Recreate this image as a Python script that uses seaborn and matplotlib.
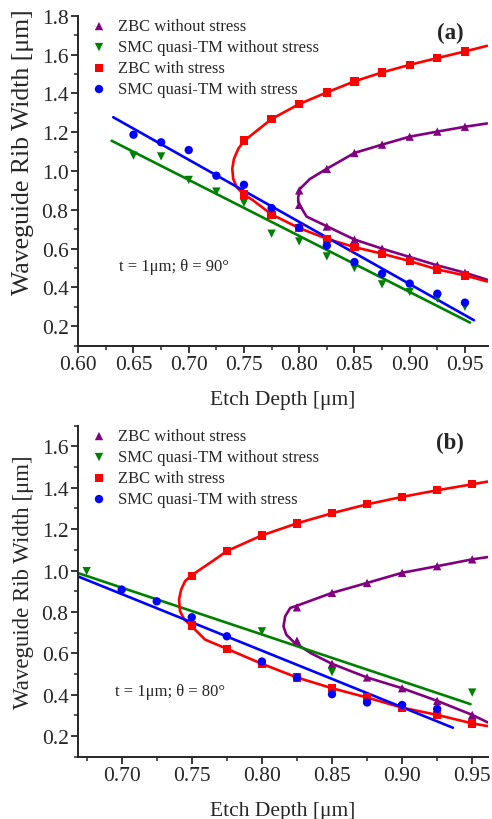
import numpy as np
import pandas as pd
import matplotlib
matplotlib.use("Agg")
import matplotlib.pyplot as plt
from matplotlib.ticker import MultipleLocator
import seaborn as sns

sns.set_style("ticks")
plt.rcParams['font.family'] = ['Liberation Serif', 'DejaVu Serif']

labels = ['ZBC without stress', 'SMC quasi-TM without stress',
          'ZBC with stress', 'SMC quasi-TM with stress']
colors = ['#800080', '#008000', '#ff0000', '#0000ff']
markers = ['^', 'v', 's', 'o']

#%% panel (a): theta = 90 deg
a_zbc_ns_x = [0.80, 0.80, 0.825, 0.825, 0.85, 0.85, 0.875, 0.875, 0.90, 0.90, 0.925, 0.925, 0.95, 0.95]
a_zbc_ns_y = [0.90, 0.826, 1.011, 0.714, 1.093, 0.647, 1.136, 0.600, 1.177, 0.557, 1.203, 0.514, 1.228, 0.476]
a_smc_ns_x = [0.65, 0.675, 0.70, 0.725, 0.75, 0.775, 0.80, 0.825, 0.85, 0.875, 0.90, 0.925, 0.95]
a_smc_ns_y = [1.079, 1.075, 0.954, 0.894, 0.836, 0.677, 0.637, 0.560, 0.500, 0.416, 0.377, 0.342, 0.300]
a_zbc_s_x = [0.75, 0.75, 0.775, 0.775, 0.80, 0.80, 0.825, 0.825, 0.85, 0.85, 0.875, 0.875, 0.90, 0.90, 0.925, 0.925, 0.95, 0.95]
a_zbc_s_y = [1.157, 0.879, 1.268, 0.774, 1.345, 0.706, 1.405, 0.651, 1.462, 0.608, 1.508, 0.574, 1.547, 0.536, 1.582, 0.493, 1.616, 0.462]
a_smc_s_x = [0.65, 0.675, 0.70, 0.725, 0.75, 0.775, 0.80, 0.825, 0.85, 0.875, 0.90, 0.925, 0.95]
a_smc_s_y = [1.187, 1.148, 1.108, 0.976, 0.929, 0.809, 0.709, 0.616, 0.531, 0.471, 0.420, 0.368, 0.322]

# theory curves
a_zbc_ns_cx = [0.97, 0.95, 0.925, 0.90, 0.875, 0.85, 0.8248, 0.8097, 0.8007, 0.7991, 0.7991, 0.8007, 0.8067, 0.8248, 0.85, 0.875, 0.90, 0.925, 0.95, 0.97]
a_zbc_ns_cy = [1.245, 1.228, 1.203, 1.177, 1.136, 1.093, 1.011, 0.959, 0.908, 0.865, 0.840, 0.822, 0.765, 0.716, 0.647, 0.600, 0.557, 0.514, 0.476, 0.440]
a_zbc_s_cx = [0.97, 0.95, 0.925, 0.90, 0.875, 0.85, 0.825, 0.80, 0.775, 0.75, 0.7448, 0.7409, 0.7394, 0.7403, 0.7434, 0.7494, 0.7584, 0.7751, 0.80, 0.825, 0.85, 0.875, 0.90, 0.925, 0.95, 0.97]
a_zbc_s_cy = [1.645, 1.616, 1.582, 1.547, 1.508, 1.462, 1.405, 1.345, 1.268, 1.155, 1.114, 1.062, 1.011, 0.959, 0.917, 0.882, 0.848, 0.776, 0.706, 0.651, 0.608, 0.574, 0.536, 0.493, 0.462, 0.431]
a_smc_ns_cx = [0.6302, 0.9546]
a_smc_ns_cy = [1.156, 0.219]
a_smc_s_cx = [0.6317, 0.9582]
a_smc_s_cy = [1.277, 0.231]

#%% panel (b): theta = 80 deg
b_zbc_ns_x = [0.825, 0.825, 0.85, 0.85, 0.875, 0.875, 0.90, 0.90, 0.925, 0.925, 0.95, 0.95]
b_zbc_ns_y = [0.822, 0.661, 0.892, 0.549, 0.940, 0.483, 0.989, 0.431, 1.021, 0.370, 1.054, 0.302]
b_smc_ns_x = [0.675, 0.75, 0.80, 0.85, 0.95]
b_smc_ns_y = [0.997, 0.758, 0.706, 0.509, 0.410]
b_zbc_s_x = [0.75, 0.75, 0.775, 0.775, 0.80, 0.80, 0.825, 0.825, 0.85, 0.85, 0.875, 0.875, 0.90, 0.90, 0.925, 0.925, 0.95, 0.95]
b_zbc_s_y = [0.973, 0.735, 1.094, 0.622, 1.170, 0.549, 1.228, 0.483, 1.277, 0.431, 1.320, 0.386, 1.356, 0.337, 1.388, 0.302, 1.417, 0.261]
b_smc_s_x = [0.70, 0.725, 0.75, 0.775, 0.80, 0.825, 0.85, 0.875, 0.90, 0.925]
b_smc_s_y = [0.908, 0.851, 0.774, 0.682, 0.560, 0.483, 0.402, 0.362, 0.350, 0.331]

b_zbc_ns_cx = [0.961, 0.95, 0.925, 0.90, 0.875, 0.85, 0.825, 0.8202, 0.8166, 0.8154, 0.8174, 0.8226, 0.835, 0.85, 0.875, 0.90, 0.925, 0.95, 0.961]
b_zbc_ns_cy = [1.065, 1.054, 1.021, 0.989, 0.940, 0.892, 0.830, 0.819, 0.779, 0.730, 0.690, 0.655, 0.600, 0.549, 0.483, 0.431, 0.370, 0.302, 0.266]
b_zbc_s_cx = [0.961, 0.95, 0.925, 0.90, 0.875, 0.85, 0.825, 0.80, 0.775, 0.7666, 0.7495, 0.7452, 0.7424, 0.7409, 0.7416, 0.7447, 0.7488, 0.7595, 0.7738, 0.80, 0.825, 0.85, 0.875, 0.90, 0.925, 0.95, 0.961]
b_zbc_s_cy = [1.430, 1.417, 1.388, 1.356, 1.320, 1.277, 1.228, 1.170, 1.094, 1.054, 0.975, 0.949, 0.908, 0.860, 0.803, 0.763, 0.738, 0.666, 0.625, 0.549, 0.483, 0.431, 0.386, 0.337, 0.302, 0.261, 0.248]
b_smc_ns_cx = [0.6683, 0.9488]
b_smc_ns_cy = [0.989, 0.354]
b_smc_s_cx = [0.6683, 0.9362]
b_smc_s_cy = [0.973, 0.240]


def draw_panel(ax, pts, curves, xlim, ylim, yticks, tag, note, ylab_size, ylab_pos):
    # theory curves first, markers on top
    for (cx, cy), col in zip(curves, colors):
        df = pd.DataFrame({'x': cx, 'y': cy})
        sns.lineplot(data=df, x='x', y='y', sort=False, estimator=None,
                     color=col, lw=1.9, legend=False, ax=ax, zorder=2)
    for (px, py), lab, col, mk in zip(pts, labels, colors, markers):
        df = pd.DataFrame({'x': px, 'y': py})
        sns.scatterplot(data=df, x='x', y='y', color=col, marker=mk, s=36,
                        edgecolor='none', label=lab, ax=ax, zorder=3)

    ax.set_xlim(*xlim)
    ax.set_ylim(*ylim)
    ax.set_yticks(yticks)
    ax.xaxis.set_major_locator(MultipleLocator(0.05))
    ax.xaxis.set_minor_locator(MultipleLocator(0.025))
    ax.yaxis.set_minor_locator(MultipleLocator(0.1))
    ax.xaxis.set_major_formatter(plt.FormatStrFormatter('%.2f'))
    ax.yaxis.set_major_formatter(plt.FormatStrFormatter('%.1f'))
    ax.tick_params(which='major', direction='out', length=5, width=1.3, labelsize=15.5, pad=2)
    ax.tick_params(which='minor', direction='out', length=3, width=1.1)
    for s in ['left', 'bottom']:
        ax.spines[s].set_linewidth(1.4)
    sns.despine(ax=ax)

    ax.set_xlabel('Etch Depth [μm]', fontsize=15.5, labelpad=11)
    ax.set_ylabel('Waveguide Rib Width [μm]', fontsize=ylab_size)
    ax.yaxis.set_label_coords(-0.108, ylab_pos)
    ax.text(0.907, 0.95, tag, transform=ax.transAxes, fontsize=16.5,
            fontweight='bold', ha='center', va='center')
    ax.text(note[0], note[1], note[2], transform=ax.transAxes, fontsize=12,
            ha='left', va='center')
    ax.legend(loc='upper left', bbox_to_anchor=(0.01, 1.012), frameon=False,
              fontsize=12, handletextpad=0.55, labelspacing=0.3,
              borderaxespad=0, handlelength=1.2, markerscale=1.0)


if __name__ == "__main__":
    fig = plt.figure(figsize=(4.92, 8.2), dpi=100)
    ax_a = fig.add_axes([0.159, 0.5772, 0.8327, 0.4024])
    ax_b = fig.add_axes([0.159, 0.076, 0.8327, 0.4036])

    draw_panel(ax_a,
               [(a_zbc_ns_x, a_zbc_ns_y), (a_smc_ns_x, a_smc_ns_y),
                (a_zbc_s_x, a_zbc_s_y), (a_smc_s_x, a_smc_s_y)],
               [(a_zbc_ns_cx, a_zbc_ns_cy), (a_smc_ns_cx, a_smc_ns_cy),
                (a_zbc_s_cx, a_zbc_s_cy), (a_smc_s_cx, a_smc_s_cy)],
               (0.60, 0.9708), (0.1, 1.8), np.arange(0.2, 1.81, 0.2), '(a)',
               (0.10, 0.2415, 't = 1μm; θ = 90°'), 18.5, 0.59)

    draw_panel(ax_b,
               [(b_zbc_ns_x, b_zbc_ns_y), (b_smc_ns_x, b_smc_ns_y),
                (b_zbc_s_x, b_zbc_s_y), (b_smc_s_x, b_smc_s_y)],
               [(b_zbc_ns_cx, b_zbc_ns_cy), (b_smc_ns_cx, b_smc_ns_cy),
                (b_zbc_s_cx, b_zbc_s_cy), (b_smc_s_cx, b_smc_s_cy)],
               (0.669, 0.9612), (0.1, 1.7), np.arange(0.2, 1.61, 0.2), '(b)',
               (0.09, 0.199, 't = 1μm; θ = 80°'), 16.5, 0.53)

    fig.savefig('out.png', dpi=100)
